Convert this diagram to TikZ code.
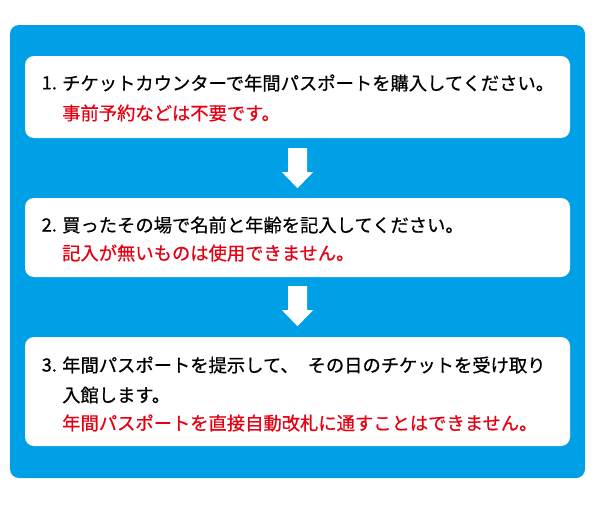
\documentclass[tikz,border=0pt]{standalone}
\usepackage{fontspec}
\setmainfont{Noto Sans CJK JP}[FakeBold=0.6]
\usetikzlibrary{calc}
\definecolor{bgblue}{RGB}{0,160,230}
\definecolor{notered}{RGB}{230,0,18}
\tikzset{
  panel/.style={fill=bgblue, rounded corners=9pt, minimum width=575pt, minimum height=453pt, inner sep=0pt},
  stepbox/.style={fill=white, rounded corners=9pt, minimum width=545pt, inner sep=0pt},
  txt/.style={anchor=west, inner sep=0pt, font=\fontsize{18.3pt}{22pt}\selectfont, text=black},
  redtxt/.style={txt, text=notered},
  downarr/.pic={\fill[white] (-9.5,0) -- (-9.5,24) -- (-15.5,24) -- (0,40) -- (15.5,24) -- (9.5,24) -- (9.5,0) -- cycle;}
}
\begin{document}
\begin{tikzpicture}[x=1pt,y=-1pt]
\useasboundingbox (0,0) rectangle (595,506);
\node[panel] (bg) at (297.5,251.5) {};
\node[stepbox, minimum height=82pt] (b1) at (297.5,97) {};
\node[stepbox, minimum height=79pt] (b2) at (297.5,237.5) {};
\node[stepbox, minimum height=109pt] (b3) at (297.5,391.5) {};
\pic at ($(b1.south)+(0,10)$) {downarr};
\pic at ($(b2.south)+(0,9)$) {downarr};
\node[txt] (n1) at (41.5,83) {1.};
\node[txt] (t1) at (62,83) {チケットカウンターで年間パスポートを購入してください。};
\node[redtxt] (r1) at (62,113) {事前予約などは不要です。};
\node[txt] (n2) at (41.5,225) {2.};
\node[txt] (t2) at (62,225) {買ったその場で名前と年齢を記入してください。};
\node[redtxt] (r2) at (62,253) {記入が無いものは使用できません。};
\node[txt] (n3) at (41.5,365) {3.};
\node[txt] (t3) at (62,365) {年間パスポートを提示して、\hspace{9pt}その日のチケットを受け取り};
\node[txt] (t3b) at (62,395) {入館します。};
\node[redtxt] (r3) at (62,423) {年間パスポートを直接自動改札に通すことはできません。};
\end{tikzpicture}
\end{document}
